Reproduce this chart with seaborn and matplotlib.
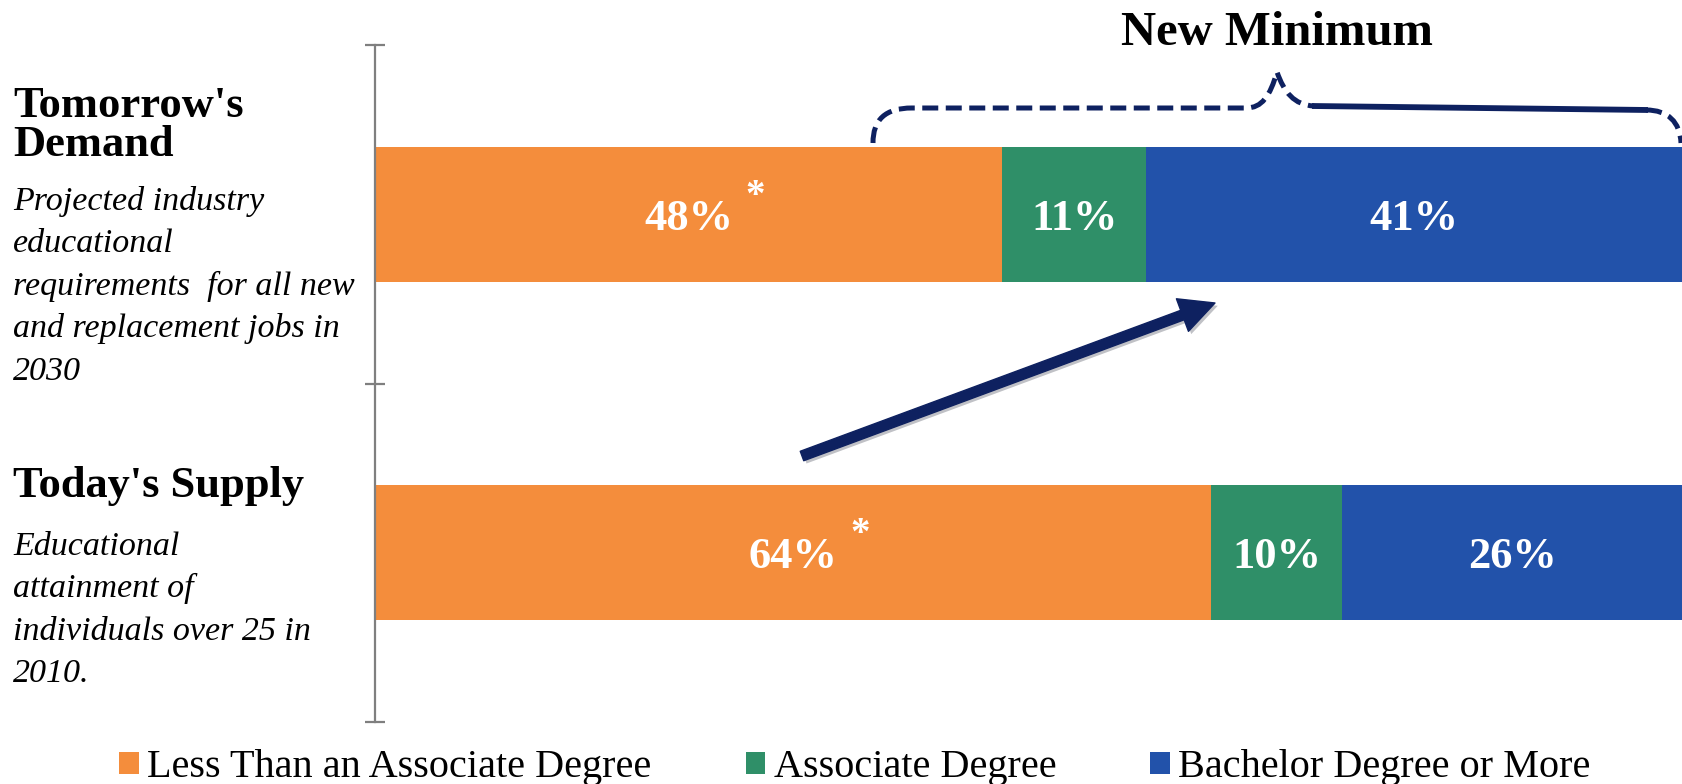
import matplotlib
matplotlib.use("Agg")
import matplotlib.pyplot as plt
import seaborn as sns
import pandas as pd
from matplotlib.path import Path
from matplotlib.patches import PathPatch, FancyArrowPatch, Patch
import matplotlib.patheffects as pe

# ---- data -------------------------------------------------------------
groups = ["Tomorrow's Demand", "Today's Supply"]
levels = ["Less Than an Associate Degree", "Associate Degree",
          "Bachelor Degree or More"]
less_than_associate = [48, 64]
associate_degree = [11, 10]
bachelor_or_more = [41, 26]
colors = ["#F48D3C", "#2F8F68", "#2252AA"]
navy = "#0E2160"

group_titles = [["Tomorrow's", "Demand"], ["Today's Supply"]]
group_notes = [
    ["Projected industry", "educational", "requirements  for all new",
     "and replacement jobs in", "2030"],
    ["Educational", "attainment of", "individuals over 25 in", "2010."],
]

# ---- figure -----------------------------------------------------------
sns.set_theme(style="white")
plt.rcParams["font.family"] = ["Liberation Serif", "DejaVu Serif"]
plt.rcParams["text.color"] = "black"

W, H = 1682, 784
fig = plt.figure(figsize=(W / 100, H / 100), dpi=100)


def fx(px):
    return px / W


def fy(py):
    return 1 - py / H


ax = fig.add_axes([fx(375), fy(722), 1 - fx(375), (722 - 45) / H])

df = pd.DataFrame({
    "group": groups,
    "less": less_than_associate,
    "assoc": associate_degree,
    "bach": bachelor_or_more,
})
df["end_less"] = df["less"]
df["end_assoc"] = df["less"] + df["assoc"]
df["end_bach"] = df["end_assoc"] + df["bach"]

# stacked bars: draw cumulative totals back to front
for col, c in [("end_bach", colors[2]), ("end_assoc", colors[1]),
               ("end_less", colors[0])]:
    sns.barplot(data=df, x=col, y="group", orient="h", color=c,
                saturation=1, width=0.4, linewidth=0, ax=ax)

# segment labels
for i, row in df.iterrows():
    starts = [0, row["end_less"], row["end_assoc"]]
    vals = [row["less"], row["assoc"], row["bach"]]
    for s, v in zip(starts, vals):
        ax.text(s + v / 2, i, f"{v}%", ha="center", va="center_baseline",
                color="white", fontsize=32, fontweight="bold")
    ax.annotate("*", xy=(row["less"] / 2, i), xytext=(48, 13),
                textcoords="offset points", ha="center", va="center",
                color="white", fontsize=28, fontweight="bold")

ax.set_xlim(0, 100)
ax.set_ylim(1.5, -0.5)
ax.set_xticks([])
ax.set_yticks([-0.5, 0.5, 1.5])
ax.set_yticklabels([])
ax.set_xlabel("")
ax.set_ylabel("")
for side in ["top", "right", "bottom"]:
    ax.spines[side].set_visible(False)
ax.spines["left"].set_color("#7F7F7F")
ax.spines["left"].set_linewidth(1.6)
ax.tick_params(axis="y", left=True, direction="inout", length=15,
               width=1.6, color="#7F7F7F")
ax.patch.set_alpha(0)

# ---- left-hand group descriptions --------------------------------------
title_baselines = [[117, 156], [497]]
note_baselines = [[210, 252, 295, 337, 380], [555, 597, 640, 682]]
for titles, tb, notes, nb in zip(group_titles, title_baselines,
                                 group_notes, note_baselines):
    for t, b in zip(titles, tb):
        fig.text(fx(13), fy(b), t, fontsize=32, fontweight="bold",
                 va="baseline", ha="left", color="black")
    for t, b in zip(notes, nb):
        fig.text(fx(13), fy(b), t, fontsize=24.5, fontstyle="italic",
                 va="baseline", ha="left", color="black")

# ---- "New Minimum" brace ----------------------------------------------
fig.text(fx(1277), fy(45), "New Minimum", fontsize=35, fontweight="bold",
         ha="center", va="baseline", color="black")


def fpath(verts, codes):
    return Path([(fx(x), fy(y)) for x, y in verts], codes)


C = Path.CURVE4
left_brace = fpath(
    [(873, 143), (873, 120), (885, 108), (912, 108),
     (1246, 108),
     (1262, 108), (1270, 96), (1277, 72),
     (1284, 92), (1294, 105), (1314, 106)],
    [Path.MOVETO, C, C, C, Path.LINETO, C, C, C, C, C, C])
right_line = fpath([(1312, 106), (1648, 110)], [Path.MOVETO, Path.LINETO])
right_corner = fpath(
    [(1646, 110), (1668, 110), (1680, 122), (1681, 143)],
    [Path.MOVETO, C, C, C])

for p, ls, lw in [(left_brace, (0, (3.2, 1.5)), 3.6), (right_line, "-", 4.2),
                  (right_corner, (0, (3.2, 1.5)), 3.6)]:
    fig.add_artist(PathPatch(p, transform=fig.transFigure, fill=False,
                             edgecolor=navy, linewidth=lw, linestyle=ls,
                             capstyle="butt"))

# ---- arrow from supply to demand --------------------------------------
arrow = FancyArrowPatch(
    (fx(802), fy(456)), (fx(1215), fy(303)), transform=fig.transFigure,
    arrowstyle="simple,head_length=1.0,head_width=1.0,tail_width=0.29",
    mutation_scale=25, color=navy, shrinkA=0, shrinkB=0,
    path_effects=[pe.SimplePatchShadow(offset=(2, -2), alpha=0.25),
                  pe.Normal()])
fig.add_artist(arrow)

# ---- legend -----------------------------------------------------------
handles = [Patch(facecolor=c, edgecolor="none", label=l)
           for c, l in zip(colors, levels)]
fig.legend(handles=handles, ncol=3, loc="center",
           bbox_to_anchor=(fx(855), fy(768)), frameon=False, fontsize=29,
           handlelength=0.48, handleheight=0.48, handletextpad=0.22,
           columnspacing=2.33, borderpad=0, borderaxespad=0,
           labelcolor="black")

fig.savefig("out.png", dpi=100)
